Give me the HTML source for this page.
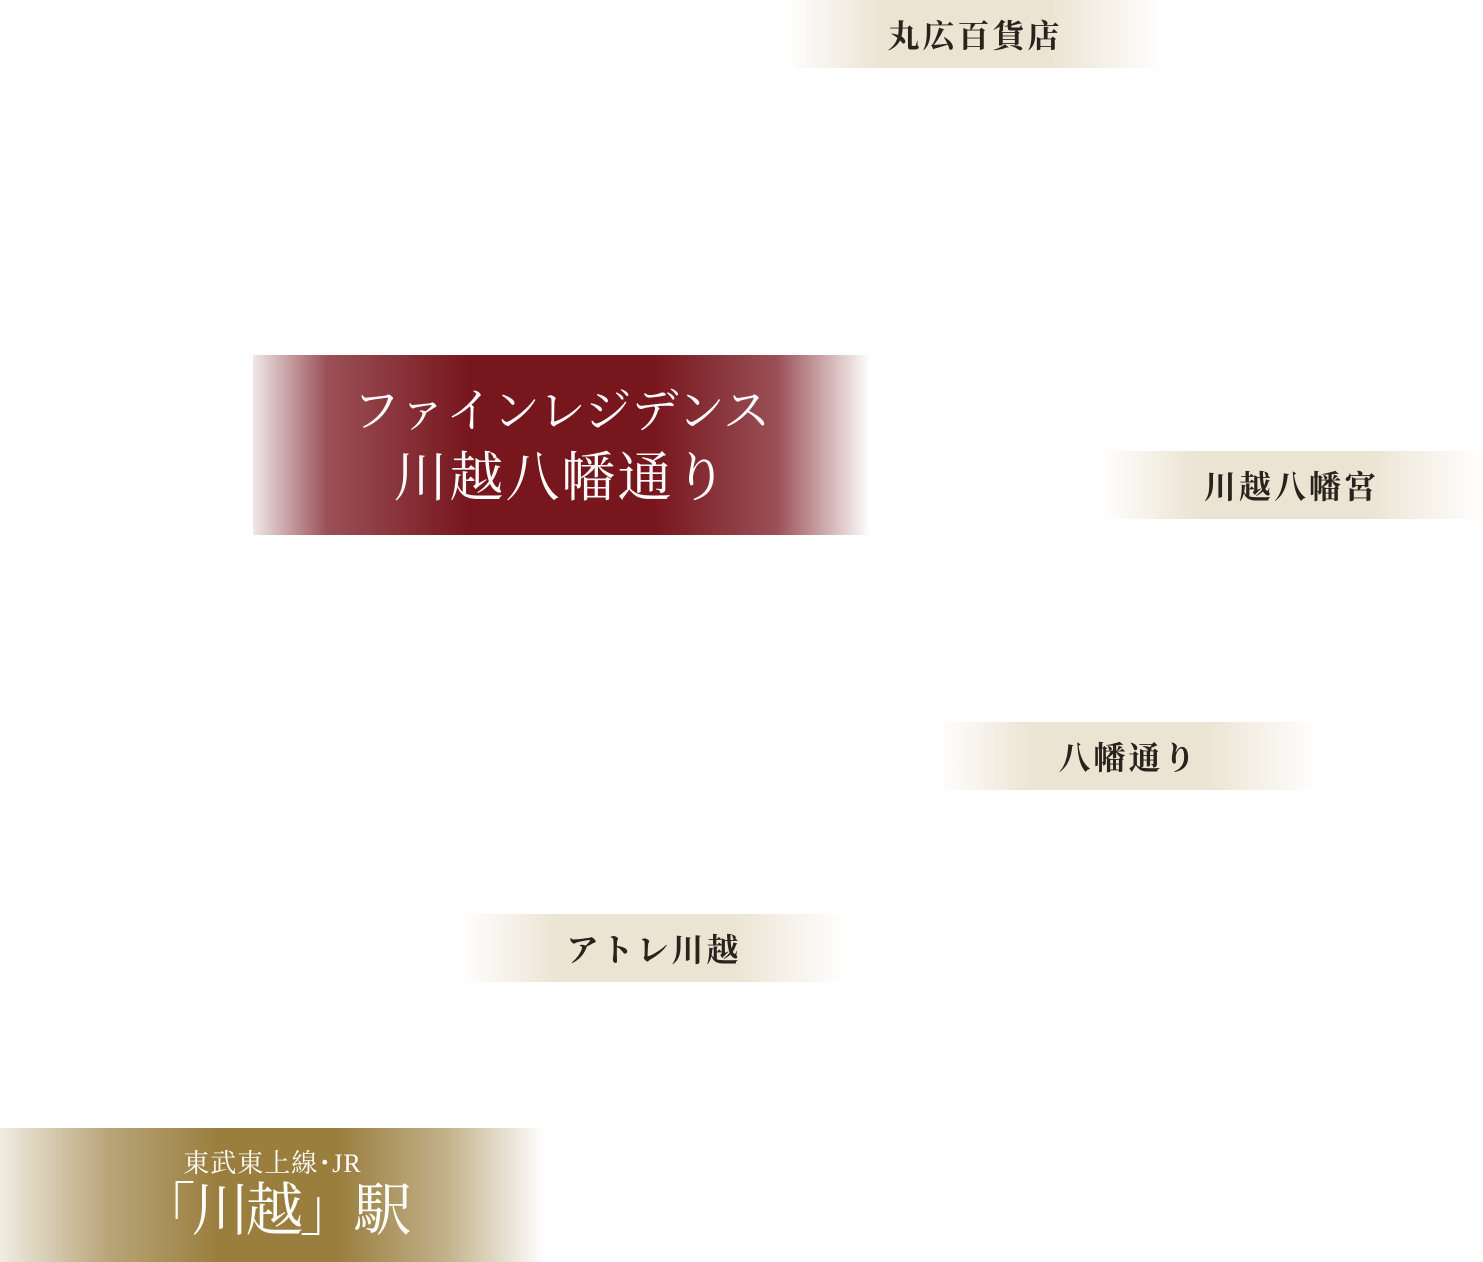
<!DOCTYPE html>
<html><head><meta charset="utf-8"><style>
html,body{margin:0;padding:0;background:#fff;width:1483px;height:1262px;overflow:hidden;position:relative}
.b{position:absolute;display:flex;align-items:center;justify-content:center;font-family:"Liberation Serif","Noto Serif CJK SC",serif;}
.l{height:68px;width:383px;background:linear-gradient(90deg,rgba(236,228,212,0) 0%,#ece4d3 25%,#ece4d3 70%,rgba(236,228,212,0) 100%);color:#2a221c;font-size:32px;font-weight:bold;letter-spacing:3px}
</style></head><body>
<div class="b l" style="left:785px;top:0;width:380px">丸広百貨店</div>
<div class="b l" style="left:1100px;top:451px">川越八幡宮</div>
<div class="b l" style="left:937px;top:722px">八幡通り</div>
<div class="b l" style="left:460px;top:914px;width:388px">アトレ川越</div>
<div class="b" style="left:253px;top:355px;width:617px;height:180px;background:linear-gradient(90deg,rgba(120,22,30,0.1) 0%,rgba(120,22,30,0.75) 12%,#78161e 35%,#78161e 65%,rgba(120,22,30,0.75) 85%,rgba(120,22,30,0) 100%);color:#fff;line-height:66px;text-align:center;flex-direction:column"><div style="font-size:47px">ファインレジデンス</div><div style="font-size:54px;letter-spacing:2px">川越八幡通り</div></div>
<div class="b" style="left:0;top:1128px;width:545px;height:134px;background:linear-gradient(90deg,rgba(154,126,62,0.15) 0%,rgba(154,126,62,0.7) 20%,#9a7e3e 40%,#9a7e3e 62%,rgba(154,126,62,0.6) 82%,rgba(154,126,62,0) 100%);color:#fff;flex-direction:column">
<div style="font-size:26px;line-height:30px;margin-top:2px;letter-spacing:1px">東武東上線･JR</div>
<div style="font-size:58px;line-height:64px;letter-spacing:-4px">「川越」駅</div></div>
</body></html>
